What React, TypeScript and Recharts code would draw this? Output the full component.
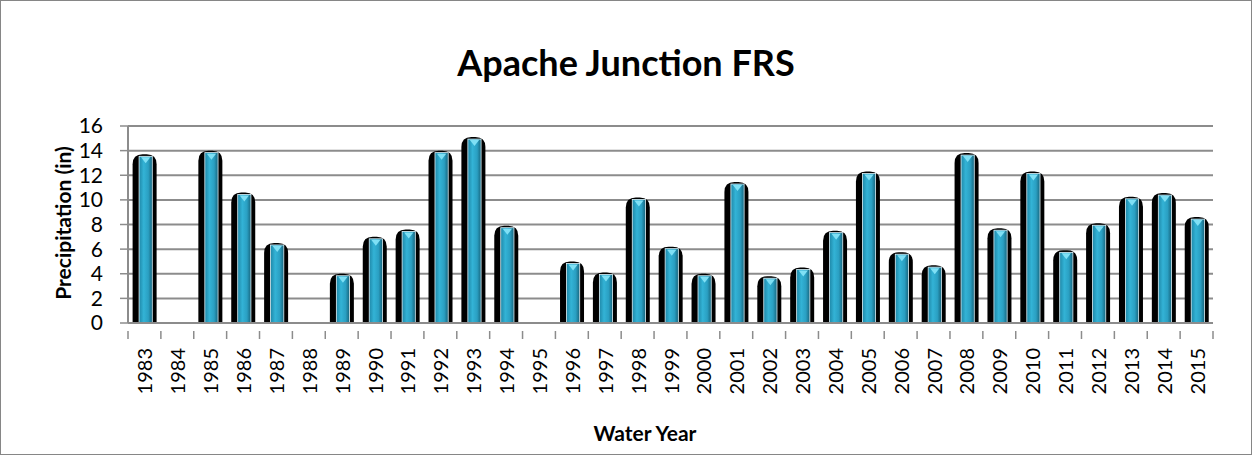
import { BarChart, Bar, XAxis, YAxis, CartesianGrid } from "recharts"

const years = [
  "1983", "1984", "1985", "1986", "1987", "1988", "1989", "1990", "1991", "1992", "1993",
  "1994", "1995", "1996", "1997", "1998", "1999", "2000", "2001", "2002", "2003", "2004",
  "2005", "2006", "2007", "2008", "2009", "2010", "2011", "2012", "2013", "2014", "2015",
]

const precip = [
  13.7, 0, 14.0, 10.6, 6.5, 0, 4.0, 7.0, 7.6, 14.0, 15.1,
  7.9, 0, 5.0, 4.1, 10.2, 6.2, 4.0, 11.45, 3.8, 4.5, 7.5,
  12.3, 5.75, 4.7, 13.8, 7.7, 12.3, 5.9, 8.1, 10.25, 10.55, 8.6,
]

const yTicks = [0, 2, 4, 6, 8, 10, 12, 14, 16]

const data = years.map((y, i) => ({ year: y, value: precip[i] }))

const FONT = "Lato, 'Open Sans', sans-serif"

function CylBar(props: any) {
  const { x, y, width, height } = props
  if (!height || height <= 0) return null
  const r = Math.min(10, width / 2, height)
  const black = `M${x},${y + height} L${x},${y + r} Q${x},${y} ${x + r},${y} L${x + width - r},${y} Q${x + width},${y} ${x + width},${y + r} L${x + width},${y + height} Z`
  const ix = x + width * 0.27
  const iw = width * 0.55
  const cx = ix + iw / 2
  return (
    <g>
      <path d={black} fill="#000" />
      <rect x={ix} y={y + 2} width={iw} height={height - 2} fill="url(#blueGrad)" stroke="#dff4fb" strokeWidth={0.8} />
      <path d={`M${ix + 2},${y + 3} L${ix + iw - 2},${y + 3} L${cx},${y + 9} Z`} fill="#7fe0f5" />
    </g>
  )
}

function YearTick(props: any) {
  const { x, y, payload, index } = props
  const off = payload.offset || 0
  return (
    <g>
      <line x1={x - off} y1={y} x2={x - off} y2={y + 8} stroke="#8c8c8c" strokeWidth={1.5} />
      {index === years.length - 1 && (
        <line x1={x + off} y1={y} x2={x + off} y2={y + 8} stroke="#8c8c8c" strokeWidth={1.5} />
      )}
      <text
        x={x}
        y={y + 17}
        transform={`rotate(-90 ${x} ${y + 17})`}
        textAnchor="end"
        dominantBaseline="central"
        fontSize={20}
        fill="#000"
        fontFamily={FONT}
      >
        {payload.value}
      </text>
    </g>
  )
}

export default function App() {
  return (
    <div
      style={{
        position: "absolute",
        left: 0,
        top: 0,
        width: 1250,
        height: 453,
        border: "1px solid #868686",
        background: "#fff",
        fontFamily: FONT,
      }}
    >
      <div
        style={{
          position: "absolute",
          left: 0,
          width: 1250,
          top: 39,
          textAlign: "center",
          fontSize: 36,
          lineHeight: "44px",
          fontWeight: 700,
        }}
      >
        Apache Junction FRS
      </div>

      <div
        style={{
          position: "absolute",
          left: 61,
          top: 222,
          transform: "translate(-50%, -50%) rotate(-90deg)",
          whiteSpace: "nowrap",
          fontSize: 21,
          fontWeight: 700,
        }}
      >
        Precipitation (in)
      </div>

      <div
        style={{
          position: "absolute",
          left: 544,
          width: 200,
          top: 420,
          textAlign: "center",
          fontSize: 21,
          lineHeight: "24px",
          fontWeight: 700,
        }}
      >
        Water Year
      </div>

      <BarChart
        width={1250}
        height={453}
        data={data}
        margin={{ top: 125, right: 38, left: 0, bottom: 0 }}
        barCategoryGap="14%"
      >
        <defs>
          <linearGradient id="blueGrad" x1="0" y1="0" x2="1" y2="0">
            <stop offset="0%" stopColor="#1f88a8" />
            <stop offset="35%" stopColor="#33b3d6" />
            <stop offset="70%" stopColor="#2a9fc2" />
            <stop offset="100%" stopColor="#17657d" />
          </linearGradient>
        </defs>
        <CartesianGrid vertical={false} stroke="#8c8c8c" strokeWidth={2} />
        <XAxis
          dataKey="year"
          interval={0}
          height={131}
          tickLine={false}
          axisLine={{ stroke: "#8c8c8c", strokeWidth: 2 }}
          tick={<YearTick />}
        />
        <YAxis
          width={127}
          domain={[0, 16]}
          ticks={yTicks}
          interval={0}
          tickLine={{ stroke: "#8c8c8c", strokeWidth: 1.5 }}
          tickSize={8}
          tickMargin={17}
          axisLine={{ stroke: "#8c8c8c", strokeWidth: 2 }}
          tick={{ fontSize: 21, fill: "#000", fontFamily: FONT }}
        />
        <Bar dataKey="value" shape={<CylBar />} isAnimationActive={false} />
      </BarChart>
    </div>
  )
}
